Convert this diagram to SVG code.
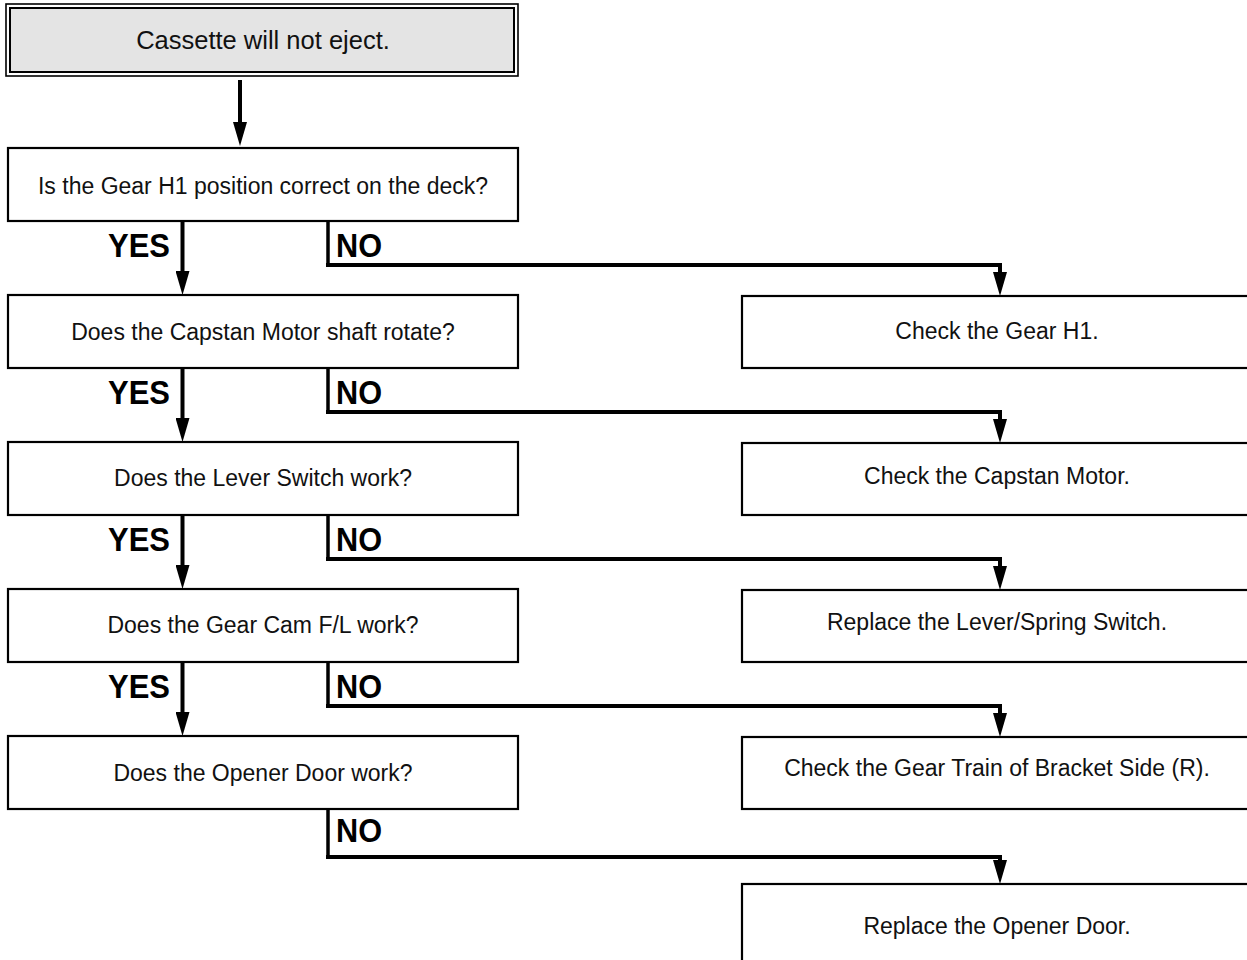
<svg xmlns="http://www.w3.org/2000/svg" width="1247" height="960" viewBox="0 0 1247 960">
<defs>
<style>
.box{fill:#fff;stroke:#000;stroke-width:2.2}
.t{font-family:"Liberation Sans",Arial,Helvetica,sans-serif;font-size:23px;fill:#111;text-anchor:middle}
.lbl{font-family:"Liberation Sans",Arial,Helvetica,sans-serif;font-size:33px;font-weight:bold;fill:#000}
.ln{fill:none;stroke:#000;stroke-width:4;stroke-linejoin:miter}
.nv{fill:none;stroke:#000;stroke-width:3.5}
</style>
<marker id="ah" viewBox="0 0 24 14" refX="12" refY="7" markerWidth="24" markerHeight="14" markerUnits="userSpaceOnUse" orient="auto">
<path d="M0,0 L24,7 L0,14 Z" fill="#000"/>
</marker>
</defs>
<rect width="1247" height="960" fill="#fff"/>

<g id="start">
<rect x="6" y="4" width="512" height="72" fill="#fff" stroke="#000" stroke-width="1.6"/>
<rect x="10" y="8" width="504" height="64" fill="#e4e4e4" stroke="#000" stroke-width="2"/>
<text class="t" x="263" y="49" style="font-size:25.5px">Cassette will not eject.</text>
</g>

<g id="q1"><rect class="box" x="8" y="148" width="510" height="73"/><text class="t" x="263" y="194">Is the Gear H1 position correct on the deck?</text></g>
<g id="q2"><rect class="box" x="8" y="295" width="510" height="73"/><text class="t" x="263" y="340">Does the Capstan Motor shaft rotate?</text></g>
<g id="q3"><rect class="box" x="8" y="442" width="510" height="73"/><text class="t" x="263" y="486">Does the Lever Switch work?</text></g>
<g id="q4"><rect class="box" x="8" y="589" width="510" height="73"/><text class="t" x="263" y="633">Does the Gear Cam F/L work?</text></g>
<g id="q5"><rect class="box" x="8" y="736" width="510" height="73"/><text class="t" x="263" y="781">Does the Opener Door work?</text></g>

<g id="a1"><rect class="box" x="742" y="296" width="520" height="72"/><text class="t" x="997" y="339">Check the Gear H1.</text></g>
<g id="a2"><rect class="box" x="742" y="443" width="520" height="72"/><text class="t" x="997" y="484">Check the Capstan Motor.</text></g>
<g id="a3"><rect class="box" x="742" y="590" width="520" height="72"/><text class="t" x="997" y="630">Replace the Lever/Spring Switch.</text></g>
<g id="a4"><rect class="box" x="742" y="737" width="520" height="72"/><text class="t" x="997" y="776">Check the Gear Train of Bracket Side (R).</text></g>
<g id="a5"><rect class="box" x="742" y="884" width="520" height="90"/><text class="t" x="997" y="934">Replace the Opener Door.</text></g>

<g id="connectors">
<line class="ln" x1="240" y1="80" x2="240" y2="134" marker-end="url(#ah)"/>
<line class="ln" x1="182.5" y1="221" x2="182.5" y2="283" marker-end="url(#ah)"/>
<line class="ln" x1="182.5" y1="368" x2="182.5" y2="430" marker-end="url(#ah)"/>
<line class="ln" x1="182.5" y1="515" x2="182.5" y2="577" marker-end="url(#ah)"/>
<line class="ln" x1="182.5" y1="662" x2="182.5" y2="724" marker-end="url(#ah)"/>

<polyline class="nv" points="328,221 328,263"/>
<polyline class="ln" points="326,265 1000,265 1000,284" marker-end="url(#ah)"/>
<polyline class="nv" points="328,368 328,410"/>
<polyline class="ln" points="326,412 1000,412 1000,431" marker-end="url(#ah)"/>
<polyline class="nv" points="328,515 328,557"/>
<polyline class="ln" points="326,559 1000,559 1000,578" marker-end="url(#ah)"/>
<polyline class="nv" points="328,662 328,704"/>
<polyline class="ln" points="326,706 1000,706 1000,725" marker-end="url(#ah)"/>
<polyline class="nv" points="328,809 328,855"/>
<polyline class="ln" points="326,857 1000,857 1000,872" marker-end="url(#ah)"/>
</g>

<g id="labels">
<text class="lbl" x="108" y="257" textLength="62" lengthAdjust="spacingAndGlyphs">YES</text>
<text class="lbl" x="336" y="257" textLength="46" lengthAdjust="spacingAndGlyphs">NO</text>
<text class="lbl" x="108" y="404" textLength="62" lengthAdjust="spacingAndGlyphs">YES</text>
<text class="lbl" x="336" y="404" textLength="46" lengthAdjust="spacingAndGlyphs">NO</text>
<text class="lbl" x="108" y="551" textLength="62" lengthAdjust="spacingAndGlyphs">YES</text>
<text class="lbl" x="336" y="551" textLength="46" lengthAdjust="spacingAndGlyphs">NO</text>
<text class="lbl" x="108" y="698" textLength="62" lengthAdjust="spacingAndGlyphs">YES</text>
<text class="lbl" x="336" y="698" textLength="46" lengthAdjust="spacingAndGlyphs">NO</text>
<text class="lbl" x="336" y="842" textLength="46" lengthAdjust="spacingAndGlyphs">NO</text>
</g>
</svg>
